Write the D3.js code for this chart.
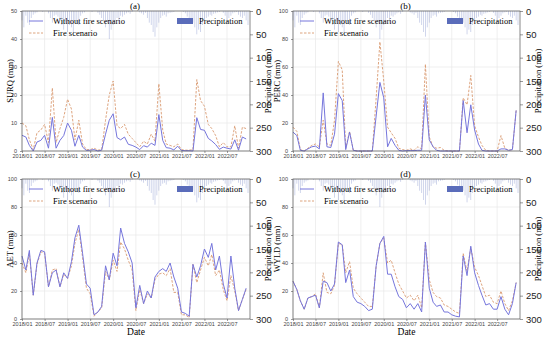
<!DOCTYPE html>
<html>
<head>
<meta charset="utf-8">
<script src="https://cdn.jsdelivr.net/npm/d3@7"></script>
<style>
  body { margin: 0; background: #fff; }
  svg { font-family: "Liberation Serif", "Times New Roman", serif; }
</style>
</head>
<body>
<svg id="chart" width="550" height="337"></svg>
<script>
// monthly values, 2018/01 .. 2022/12
var surqNoFire = [5.6,5,2,0,3.2,3.8,5.6,1,12,1,3.8,5.5,10,7.4,1.7,5.6,1.4,0.2,0.3,0.5,0,0.3,6,11,13.3,4.8,4,5,2.4,2,1.4,0.5,1.9,1.4,2.8,2,13,3.8,1.2,1,0.4,1.7,0.2,0.1,0.1,0,11.9,7.7,7.4,4.5,3.6,2.3,0.6,1.4,1,0.7,4,0.3,5,4.3];
var surqFire = [10,9,4,0.5,6.5,7.5,9.5,3,22.5,3,8,12,18.5,15,4,11,2.5,0.5,0.5,1,0.3,0.5,11,20,25,9,8,9.5,6,4.5,3,1.5,3.5,2.5,6,3.5,24,7.5,2.5,2,1.5,2.5,0.5,0.3,0.3,0.5,25.5,18,16,9.5,8,5.5,1.5,3,1.5,1.5,9,1,8.5,8];
var percNoFire = [13.5,11,0.5,0,1.5,3,3.5,1.5,41.5,3,2.5,12,41,36,1,13.5,0.5,0,0,0,0,0,25,49,38,3,9,4,0.5,0,0.3,0.3,0.3,0.5,0.5,40,8,3,0.5,0,0,0,0,0,0,36,13,33,15,5,0.5,0,0,0,0,1.5,1.5,0.5,1,29];
var percFire = [17,14,1,0,2,4,5,3,22,5,4,22,64,58,2,14,0.5,0,0,0,0,0,38,78,50,17,13,9,2,1,0.5,1.5,0.5,3,1.5,62,10,3,2,2.5,0.5,0,0,0,0,38,33,54,18,10,4,0.5,0,0,0,11,2,0.5,1,29];
var aetNoFire = [45,35,49,17,40,49,48,23,33,35,23,33,29,41,58,67,47,25,22,3,5,9,38,28,47,38,65,54,48,40,8,24,11,20,15,30,34,36,34,40,30,22,5,4,2,39,30,38,50,44,54,35,45,25,15,45,22,6,14,22];
var aetFire = [40,33,47,17,39,48,47,23,35,36,23,32,29,38,54,64,44,22,18,2,5,8,34,28,42,34,55,50,42,35,6,21,11,18,15,28,32,33,31,36,19,19,3,3,1,39,26,35,44,38,46,31,35,21,13,31,20,6,14,21];
var wyldNoFire = [27,21,13,7,15,16,17,8,27,26,20,25,55,53,26,35,16,12,11,9,6,7,38,54,59,32,32,23,16,14,8,11,7,11,5,55,22,12,9,10,5,5,3,2,1.5,45,31,52,33,24,17,10,11,7,7,16,7,3,11,26];
var wyldFire = [27,21,13,7,15,16,18,8,33,19,18,24,54,53,33,41,22,18,15,12,9,9,38,54,58,40,42,33,25,20,15,17,13,17,8,55,28,19,16,15,10,9,7,5,4,47,34,51,37,31,24,16,17,12,11,20,11,6,13,26];
// half-monthly precipitation (mm), 2018/01 .. 2022/12
var precip = [
  20,35,10,25,30,15,8,5,3,0,0,2,0,0,5,15,25,10,8,12,20,30,40,25,
  45,30,35,50,20,25,30,10,5,3,0,0,0,2,0,0,4,8,15,20,35,25,60,40,
  30,20,15,25,10,12,8,5,3,6,2,0,0,0,3,5,8,4,15,25,30,45,55,35,
  25,15,10,8,12,5,4,3,2,0,0,0,0,2,5,12,20,15,25,35,50,40,45,30,
  20,15,12,8,10,6,5,3,2,0,4,10,25,15,10,5,3,2,8,12,15,10,20,30
];
var xTickLabels = ["2018/01","2018/07","2019/01","2019/07","2020/01","2020/07","2021/01","2021/07","2022/01","2022/07"];
var precipTicks = [0,50,100,150,200,250,300];

var panels = [
  {tag: "(a)", label: "SURQ (mm)", noFire: surqNoFire, fire: surqFire, ymax: 50, ticks: [0,10,20,30,40,50], left: 22, right: 250, top: 11, bottom: 151, labelX: 13, date: false},
  {tag: "(b)", label: "PERC (mm)", noFire: percNoFire, fire: percFire, ymax: 100, ticks: [0,20,40,60,80,100], left: 293, right: 520, top: 11, bottom: 151, labelX: 280, date: false},
  {tag: "(c)", label: "AET (mm)", noFire: aetNoFire, fire: aetFire, ymax: 100, ticks: [0,20,40,60,80,100], left: 22, right: 250, top: 179, bottom: 319, labelX: 12.5, date: true},
  {tag: "(d)", label: "WYLD (mm)", noFire: wyldNoFire, fire: wyldFire, ymax: 100, ticks: [0,20,40,60,80,100], left: 293, right: 520, top: 179, bottom: 319, labelX: 280, date: true}
];

var blue = "#7676dc", orange = "#d99a70", barColor = "#5a6cba";
var svg = d3.select("#chart");

var months = d3.range(60).map(function(i) { return new Date(2018, i, 1); });
var halfDates = d3.range(120).map(function(k) { return new Date(2018, Math.floor(k / 2), k % 2 ? 16 : 1); });
var tickDates = xTickLabels.map(function(s) {
  var p = s.split("/");
  return new Date(+p[0], +p[1] - 1, 1);
});

panels.forEach(function(p) {
  var w = p.right - p.left, h = p.bottom - p.top;
  var g = svg.append("g").attr("transform", "translate(" + p.left + "," + p.top + ")");

  var x = d3.scaleTime().domain([new Date(2018, 0, 1), new Date(2023, 0, 1)]).range([0, w]);
  var y = d3.scaleLinear().domain([0, p.ymax]).range([h, 0]);
  var yp = d3.scaleLinear().domain([0, 300]).range([0, h]);

  // grid
  g.append("g").selectAll("line.v").data(tickDates).enter().append("line")
    .attr("x1", function(d) { return x(d); }).attr("x2", function(d) { return x(d); })
    .attr("y1", 0).attr("y2", h).attr("stroke", "#e8e8e8").attr("stroke-width", 0.7);
  g.append("g").selectAll("line.h").data(p.ticks).enter().append("line")
    .attr("x1", 0).attr("x2", w)
    .attr("y1", function(d) { return y(d); }).attr("y2", function(d) { return y(d); })
    .attr("stroke", "#e8e8e8").attr("stroke-width", 0.7);

  // precipitation bars hanging from top
  g.append("g").selectAll("rect").data(precip).enter().append("rect")
    .attr("x", function(d, i) { return x(halfDates[i]) - 0.4; })
    .attr("y", 0)
    .attr("width", 0.8)
    .attr("height", function(d) { return yp(d); })
    .attr("fill", barColor).attr("opacity", 0.35);

  var line = d3.line().x(function(d, i) { return x(months[i]); }).y(function(d) { return y(d); });

  g.append("path").datum(p.fire).attr("d", line)
    .attr("fill", "none").attr("stroke", orange).attr("stroke-width", 0.9)
    .attr("stroke-dasharray", "2.5,1.5");
  g.append("path").datum(p.noFire).attr("d", line)
    .attr("fill", "none").attr("stroke", blue).attr("stroke-width", 1);

  // axes
  var xAxis = g.append("g").attr("transform", "translate(0," + h + ")")
    .call(d3.axisBottom(x).tickValues(tickDates).tickSize(2).tickPadding(1)
      .tickFormat(function(d, i) { return xTickLabels[i]; }));
  xAxis.selectAll("text").attr("font-size", 5.5).attr("fill", "#444");

  var yAxis = g.append("g").call(d3.axisLeft(y).tickValues(p.ticks).tickSize(2).tickFormat(d3.format("d")));
  yAxis.selectAll("text").attr("font-size", 5.5).attr("fill", "#444");

  var rAxis = g.append("g").attr("transform", "translate(" + w + ",0)")
    .call(d3.axisRight(yp).tickValues(precipTicks).tickSize(3));
  rAxis.selectAll("text").attr("font-size", 9.5).attr("fill", "#222");

  [xAxis, yAxis, rAxis].forEach(function(a) {
    a.select(".domain").remove();
    a.selectAll("line").attr("stroke", "#555").attr("stroke-width", 0.6);
  });

  g.append("rect").attr("width", w).attr("height", h)
    .attr("fill", "none").attr("stroke", "#555").attr("stroke-width", 0.7);

  // titles and labels
  g.append("text").attr("x", w / 2 - 1).attr("y", -2)
    .attr("text-anchor", "middle").attr("font-size", 9).text(p.tag);

  svg.append("text").attr("transform", "translate(" + p.labelX + "," + (p.top + h / 2) + ") rotate(-90)")
    .attr("text-anchor", "middle").attr("font-size", 8.5).text(p.label);

  g.append("text").attr("transform", "translate(" + (w + 21) + "," + (h / 2) + ") rotate(-90)")
    .attr("text-anchor", "middle").attr("font-size", 8.5).text("Precipitation (mm)");

  if (p.date) {
    g.append("text").attr("x", w / 2).attr("y", h + 15.5)
      .attr("text-anchor", "middle").attr("font-size", 9.5).text("Date");
  }

  // legend
  var lg = g.append("g");
  lg.append("line").attr("x1", 7).attr("x2", 21).attr("y1", 10).attr("y2", 10)
    .attr("stroke", blue).attr("stroke-width", 1);
  lg.append("text").attr("x", 31).attr("y", 13).attr("font-size", 8.5).text("Without fire scenario");
  lg.append("line").attr("x1", 7).attr("x2", 21).attr("y1", 22).attr("y2", 22)
    .attr("stroke", orange).attr("stroke-width", 0.9).attr("stroke-dasharray", "2.5,1.5");
  lg.append("text").attr("x", 31).attr("y", 25).attr("font-size", 8.5).text("Fire scenario");
  lg.append("rect").attr("x", w - 73).attr("y", 7).attr("width", 16).attr("height", 6)
    .attr("fill", barColor);
  lg.append("text").attr("x", w - 51).attr("y", 13).attr("font-size", 8.5).text("Precipitation");
});
</script>
</body>
</html>
